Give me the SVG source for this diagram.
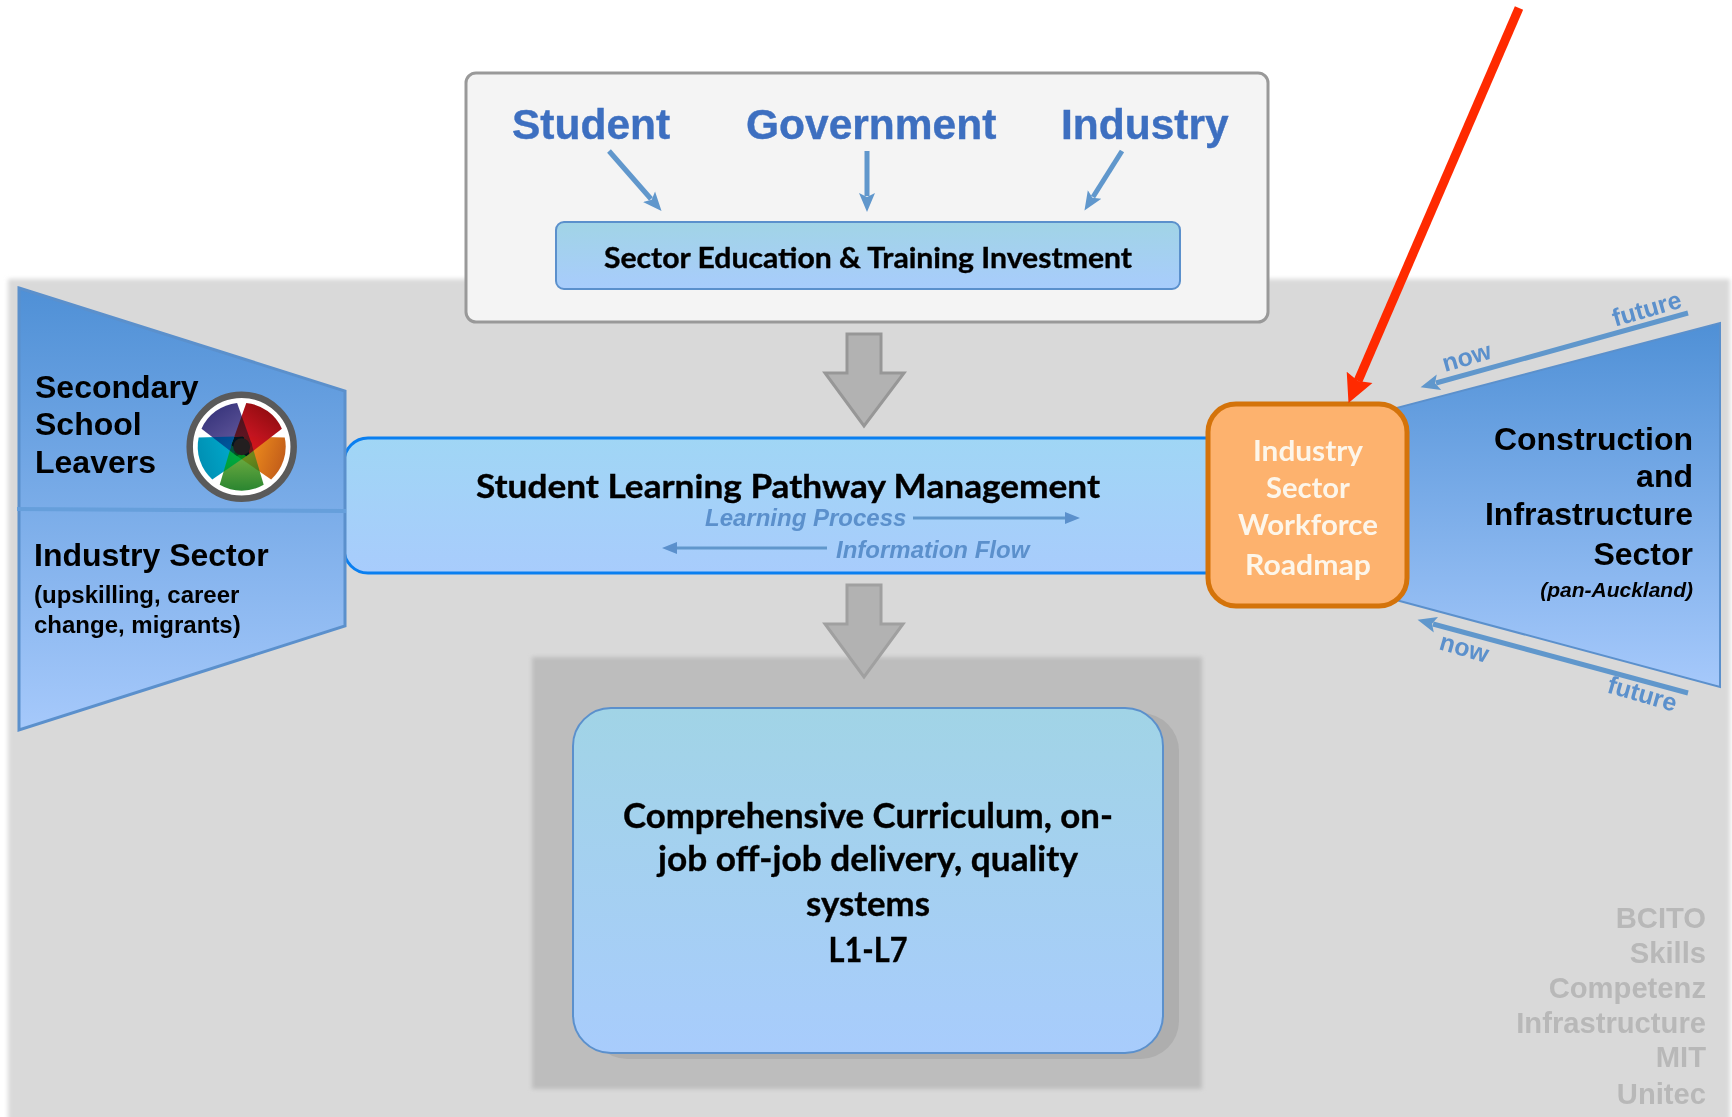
<svg xmlns="http://www.w3.org/2000/svg" width="1732" height="1117" viewBox="0 0 1732 1117">
<style>
.a{font-family:"Liberation Sans",Arial,sans-serif;font-weight:700}
.c{font-family:Lato,"Open Sans",sans-serif;font-weight:700;fill:#000;text-anchor:middle;stroke:#000;stroke-width:.35px}
.k{fill:#000}
.b{fill:#3d6fc0;font-size:42.5px;stroke:#3d6fc0;stroke-width:.4px}
.s{fill:#5b90cc}
.i{font-style:italic}
.w{fill:#b8b8b8;font-size:29.2px;text-anchor:end}
.o{font-size:29px;stroke:none}
.sl{stroke:#6097cc;fill:none}
.m{mix-blend-mode:darken}
</style>
<defs>
<linearGradient id="g1" x1="0" y1="0" x2="0" y2="1"><stop offset="0" stop-color="#a1d4e6"/><stop offset="1" stop-color="#a8ccfc"/></linearGradient>
<linearGradient id="g2" x1="0" y1="0" x2="0" y2="1"><stop offset="0" stop-color="#a0d6f5"/><stop offset="1" stop-color="#a8ccfc"/></linearGradient>
<linearGradient id="g3" x1="0" y1="0" x2="0" y2="1"><stop offset="0" stop-color="#4f90d6"/><stop offset="1" stop-color="#a6c9fb"/></linearGradient>
<linearGradient id="pr" x1="0" y1="0" x2="0" y2="1"><stop offset="0" stop-color="#960d12"/><stop offset=".7" stop-color="#cc1522"/></linearGradient>
<linearGradient id="po" x1="0" y1="0" x2="0" y2="1"><stop offset="0" stop-color="#c45f1a"/><stop offset=".7" stop-color="#ec8a1c"/></linearGradient>
<linearGradient id="pg" x1="0" y1="0" x2="0" y2="1"><stop offset="0" stop-color="#2a8530"/><stop offset=".7" stop-color="#6dab40"/></linearGradient>
<linearGradient id="pc" x1="0" y1="0" x2="0" y2="1"><stop offset="0" stop-color="#0090b4"/><stop offset=".7" stop-color="#00a8ca"/></linearGradient>
<linearGradient id="pp" x1="0" y1="0" x2="0" y2="1"><stop offset="0" stop-color="#3c387f"/><stop offset=".7" stop-color="#5c5398"/></linearGradient>
<filter id="soft" x="-2%" y="-2%" width="104%" height="104%"><feGaussianBlur stdDeviation="2"/></filter>
<path id="petal" d="M-9.3,5L-22,-38.1A44,44 0 0 1 22,-38.1L9.3,5Z"/>
<marker id="mh" markerUnits="userSpaceOnUse" markerWidth="24" markerHeight="20" refX="3" refY="10" orient="auto"><path d="M0,2L19,10L0,18L4,10Z" fill="#6097cc"/></marker>
<marker id="mt" markerUnits="userSpaceOnUse" markerWidth="20" markerHeight="16" refX="1" refY="8" orient="auto"><path d="M0,2L15,8L0,14Z" fill="#5b90cc"/></marker>
<marker id="mr" markerUnits="userSpaceOnUse" markerWidth="36" markerHeight="36" refX="4" refY="18" orient="auto"><path d="M0,4L28,18L0,32L4,18Z" fill="#ff2a00"/></marker>
</defs>
<rect width="1732" height="1117" fill="#fff"/>
<g id="background">
<rect x="8" y="279" width="1722" height="850" fill="#d9d9d9" filter="url(#soft)"/>
<rect x="532" y="657" width="670" height="432" fill="#bdbdbd" filter="url(#soft)"/>
</g>
<g id="node-investors">
<rect x="466" y="73" width="802" height="249" rx="10" fill="#f4f4f4" stroke="#999" stroke-width="3"/>
<text class="a b" x="512" y="139">Student</text>
<text class="a b" x="746" y="139">Government</text>
<text class="a b" x="1061" y="139">Industry</text>
</g>
<g id="node-investment">
<rect x="556" y="222" width="624" height="67" rx="8" fill="url(#g1)" stroke="#5b90cc" stroke-width="2"/>
<text class="c" x="868" y="268" font-size="28" textLength="528" lengthAdjust="spacingAndGlyphs">Sector Education &amp; Training Investment</text>
</g>
<g id="node-pathway">
<path d="M1240,438H368A24,24 0 0 0 344,462V549A24,24 0 0 0 368,573H1240Z" fill="url(#g2)" stroke="#0a7ff0" stroke-width="3"/>
<text class="c" x="788" y="498" font-size="33" textLength="624" lengthAdjust="spacingAndGlyphs">Student Learning Pathway Management</text>
</g>
<g id="node-left-sector">
<path d="M19,288L345,391V626L19,730Z" fill="url(#g3)" stroke="#5b90cc" stroke-width="3"/>
<path d="M17,509L346,511" stroke="#669fdb" stroke-width="4" fill="none"/>
<text class="a k" font-size="32" x="35" y="398">Secondary</text>
<text class="a k" font-size="32" x="35" y="435">School</text>
<text class="a k" font-size="32" x="35" y="473">Leavers</text>
<text class="a k" font-size="32" x="34" y="566">Industry Sector</text>
<text class="a k" font-size="24" x="34" y="603">(upskilling, career</text>
<text class="a k" font-size="24" x="34" y="633">change, migrants)</text>
<g id="wheel" transform="translate(241.7,446.7)">
<circle r="52" fill="#fff" stroke="#5a5a5a" stroke-width="6.5"/>
<g style="isolation:isolate">
<use href="#petal" class="m" fill="url(#pr)" transform="rotate(36)"/>
<use href="#petal" class="m" fill="url(#po)" transform="rotate(108)"/>
<use href="#petal" class="m" fill="url(#pg)" transform="rotate(180)"/>
<use href="#petal" class="m" fill="url(#pc)" transform="rotate(252)"/>
<use href="#petal" class="m" fill="url(#pp)" transform="rotate(324)"/>
</g>
<circle r="8.5" fill="#231f20"/>
</g>
</g>
<g id="node-right-sector">
<path d="M1394,408.6L1720,323V687L1394,599.4Z" fill="url(#g3)" stroke="#5b90cc" stroke-width="2"/>
<text class="a k" font-size="32" text-anchor="end" x="1693" y="450">Construction</text>
<text class="a k" font-size="32" text-anchor="end" x="1693" y="487">and</text>
<text class="a k" font-size="32" text-anchor="end" x="1693" y="525">Infrastructure</text>
<text class="a k" font-size="32" text-anchor="end" x="1693" y="565">Sector</text>
<text class="a k i" font-size="21" text-anchor="end" x="1693" y="597">(pan-Auckland)</text>
</g>
<g id="node-roadmap">
<rect x="1208" y="404" width="199" height="202" rx="28" fill="#fdb26e" stroke="#d4730a" stroke-width="5"/>
<text class="c o" x="1308" y="461" textLength="110" lengthAdjust="spacingAndGlyphs" style="fill:#fdf6ea">Industry</text>
<text class="c o" x="1308" y="498" textLength="84" lengthAdjust="spacingAndGlyphs" style="fill:#fdf6ea">Sector</text>
<text class="c o" x="1308" y="535" textLength="140" lengthAdjust="spacingAndGlyphs" style="fill:#fdf6ea">Workforce</text>
<text class="c o" x="1308" y="575" textLength="126" lengthAdjust="spacingAndGlyphs" style="fill:#fdf6ea">Roadmap</text>
</g>
<g id="node-curriculum">
<rect x="589" y="713" width="590" height="346" rx="38" fill="#aeaeae"/>
<rect x="573" y="708" width="590" height="345" rx="38" fill="url(#g1)" stroke="#5b90cc" stroke-width="2"/>
<text class="c" x="868" y="828" font-size="34" textLength="490" lengthAdjust="spacingAndGlyphs">Comprehensive Curriculum, on-</text>
<text class="c" x="868" y="871" font-size="34" textLength="420" lengthAdjust="spacingAndGlyphs">job off-job delivery, quality</text>
<text class="c" x="868" y="916" font-size="34" textLength="124" lengthAdjust="spacingAndGlyphs">systems</text>
<text class="c" x="868" y="962" font-size="34" textLength="79" lengthAdjust="spacingAndGlyphs">L1-L7</text>
</g>
<g id="node-providers">
<text class="a w" x="1706" y="928">BCITO</text>
<text class="a w" x="1706" y="963">Skills</text>
<text class="a w" x="1706" y="998">Competenz</text>
<text class="a w" x="1706" y="1033">Infrastructure</text>
<text class="a w" x="1706" y="1067">MIT</text>
<text class="a w" x="1706" y="1104">Unitec</text>
</g>
<g id="connectors">
<path class="sl" stroke-width="5" d="M609,151L651,199" marker-end="url(#mh)"/>
<path class="sl" stroke-width="5" d="M867,151V196" marker-end="url(#mh)"/>
<path class="sl" stroke-width="5" d="M1122,151L1093,197" marker-end="url(#mh)"/>
<path d="M847,334H881V373H904L864,426L825,373H847Z" fill="#b2b2b2" stroke="#979797" stroke-width="3"/>
<path d="M847,585H881V624H903L864,677L825,624H847Z" fill="#b2b2b2" stroke="#a0a0a0" stroke-width="3"/>
<path class="sl" stroke="#5b90cc" stroke-width="3" d="M913,518H1066" marker-end="url(#mt)"/>
<path class="sl" stroke="#5b90cc" stroke-width="3" d="M827,548H676" marker-end="url(#mt)"/>
<text class="a s i" font-size="24" x="705" y="526">Learning Process</text>
<text class="a s i" font-size="24" x="836" y="558">Information Flow</text>
<path class="sl" stroke-width="5" d="M1688,313L1436,383" marker-end="url(#mh)"/>
<path class="sl" stroke-width="5" d="M1688,693L1433,624" marker-end="url(#mh)"/>
<text class="a s" font-size="25" text-anchor="middle" transform="translate(1469,365) rotate(-16)">now</text>
<text class="a s" font-size="25" text-anchor="middle" transform="translate(1649,317) rotate(-16)">future</text>
<text class="a s" font-size="25" text-anchor="middle" transform="translate(1462,656) rotate(16)">now</text>
<text class="a s" font-size="25" text-anchor="middle" transform="translate(1640,702) rotate(16)">future</text>
<path d="M1519,8L1358,381" stroke="#ff2a00" stroke-width="9" fill="none" marker-end="url(#mr)"/>
</g>
</svg>
